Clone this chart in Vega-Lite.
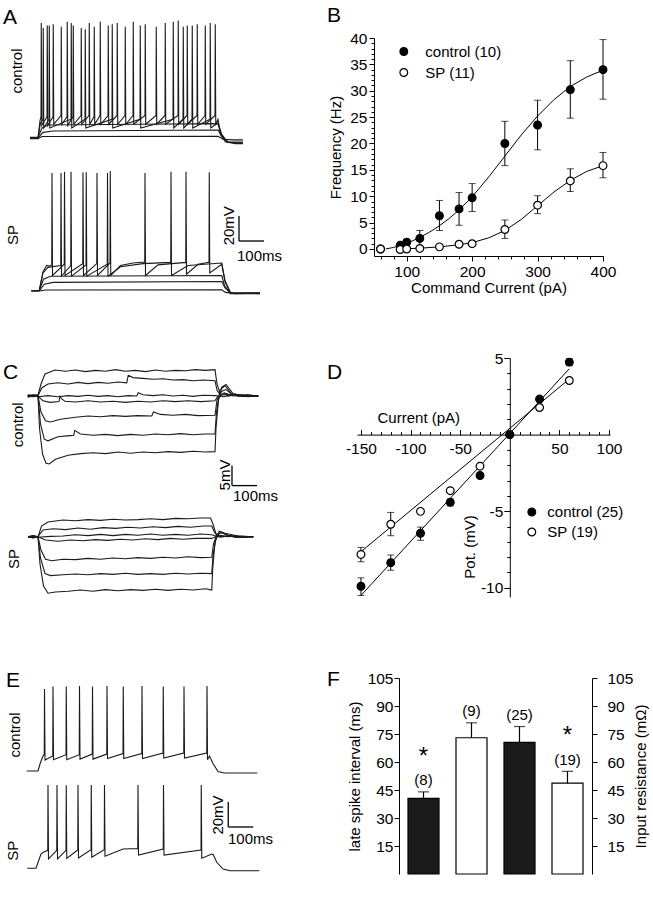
{
  "$schema": "https://vega.github.io/schema/vega-lite/v6.json",
  "background": "white",
  "padding": {"left": 0, "top": 4, "right": 5, "bottom": 5},
  "columns": 2,
  "align": {"row": "each", "column": "none"},
  "bounds": "flush",
  "spacing": {"row": 81, "column": 57},
  "resolve": {"scale": {"fill": "independent"}, "legend": {"fill": "independent"}},
  "config": {
    "view": {"stroke": null},
    "font": "Liberation Sans",
    "title": {"font": "Liberation Sans", "fontSize": 21, "fontWeight": "normal", "color": "black", "anchor": "start", "frame": "group", "offset": 0},
    "axis": {"labelFont": "Liberation Sans", "titleFont": "Liberation Sans", "labelFontSize": 15.5, "titleFontSize": 15, "titleFontWeight": "normal", "labelColor": "black", "titleColor": "black", "domainColor": "black", "tickColor": "black", "grid": false, "labelFlush": false, "labelOverlap": false, "tickWidth": 1, "domainWidth": 1},
    "legend": {"labelFont": "Liberation Sans", "labelFontSize": 15, "labelColor": "black", "labelLimit": 0},
    "text": {"font": "Liberation Sans", "color": "black"}
  },
  "datasets": {
    "A": [
      {"tr": "c1", "t": [-32,0,16,720,740,780,820], "v": [-0.5,-0.5,1.2,1.4,-1,-1.5,-1.5]},
      {"tr": "c2", "t": [-32,0,20,60,400,720,735,760,820], "v": [0,0,4.5,5.6,6.0,6.4,1,-3,-3.2]},
      {"tr": "c3", "t": [-32,0,16,40,400,720,735,760,820], "v": [0.5,0.5,8,10.4,11,11.5,3,-3.6,-4]},
      {"tr": "c4", "t": [-32,0,10,20,21,23,44,45,47,132,133,135,188,189,191,296,297,299,408,409,411,540,541,543,580,581,583,616,617,619,688,689,691,720,732,750,790,820],
        "v": [0,0,12,15,88,8,15,90,8,15,92,8,15,87,8,15,91,8,15,90,8,15,93,8,15,89,8,15,90,8,15,92,8,12,2,-3,-4,-4]},
      {"tr": "c5", "t": [-32,0,8,12,13,15,36,37,39,60,61,63,92,93,95,116,117,119,140,141,143,172,173,175,204,205,207,224,225,227,248,249,251,280,281,283,316,317,319,348,349,351,380,381,383,428,429,431,472,473,475,508,509,511,560,561,563,596,597,599,636,637,639,668,669,671,708,709,711,720,730,750,790,820],
        "v": [0,0,14,17,92,10,17,90,10,17,91,11,18,89,11,17,93,10,17,90,11,18,88,11,18,92,11,17,89,11,18,93,11,18,90,11,18,92,11,18,89,11,18,93,11,18,91,11,18,89,11,18,92,11,18,94,11,18,90,11,18,91,11,18,90,11,18,91,11,15,4,-3,-4.5,-4.5]},
      {"tr": "s1", "t": [-26,5,30,735,750,790,888], "v": [-122.4,-122.4,-121.6,-121.4,-123.5,-124.5,-124]},
      {"tr": "s2", "t": [-26,5,25,60,735,748,770,888], "v": [-122.4,-122.4,-117,-115.5,-114.8,-120,-124,-124.5]},
      {"tr": "s3", "t": [-26,5,22,50,735,746,770,888], "v": [-122,-122,-113,-110.6,-110,-118,-124.5,-124.5]},
      {"tr": "s4", "t": [-26,5,20,40,91,92,94,131,132,134,192,193,195,277,278,280,330,420,531,532,534,600,735,748,770,888],
        "v": [-122,-122,-108,-103.5,-102,-28,-110.5,-102,-27,-110.5,-101.5,-27.5,-110.5,-101,-28,-110.5,-103,-100.5,-99.5,-27,-110,-102,-100,-114,-123.8,-124]},
      {"tr": "s5", "t": [-26,5,20,35,45,55,56,58,105,106,108,179,180,182,235,236,238,288,289,291,330,380,427,428,430,480,591,592,594,640,684,685,687,735,748,770,888],
        "v": [-122,-122,-107,-102,-102.5,-101.5,-28,-110,-101,-27,-110,-100.5,-27.5,-110,-100.5,-28,-110,-100,-26.5,-110,-102,-100,-99.2,-28,-110,-101.5,-99.5,-27,-109,-101,-99.5,-27.5,-108,-101,-115,-124,-124]}
    ],
    "Abar": [{"t": 804, "v": -82.4, "t2": 804, "v2": -62.4}, {"t": 804, "v": -82.4, "t2": 904, "v2": -82.4}],
    "Arot": [{"t": -84, "v": 53.6, "txt": "control"}, {"t": -100, "v": -77.6, "txt": "SP"}, {"t": 764, "v": -70.2, "txt": "20mV"}],
    "Ahor": [{"t": 796, "v": -94.2, "txt": "100ms"}],
    "C": [
      {"tr": "c1", "t": [-41,-20,0,12,28,68,110,150,190,230,270,310,350,390,430,470,510,550,590,630,670,708,716,730,745,760,800,840,881],
        "v": [0.3,0.1,0.3,3,5.5,6.5,6.2,6.5,6.1,6.4,6.2,6.6,6.2,6.4,6.1,6.5,6.2,6.4,6.3,6.6,6.4,6.6,3,0.3,0.6,0,0.3,-0.2,0.1]},
      {"tr": "c2", "t": [-41,-20,0,15,40,80,120,160,200,240,280,320,355,361,380,420,460,500,540,580,620,660,708,716,730,760,800,840,881],
        "v": [0,0.3,0.1,2,3.0,3.3,3.0,3.4,3.1,3.4,3.2,3.5,3.3,5.2,4.6,4.4,4.2,4.3,4.0,4.1,3.8,4.0,3.8,1.5,0.2,0.4,0,0.3,0]},
      {"tr": "c3", "t": [-41,-20,0,40,80,120,160,200,240,280,320,360,395,401,420,460,500,540,580,620,660,708,740,780,820,881],
        "v": [-0.3,0,-0.2,0.1,-0.2,0.1,-0.1,0.2,-0.1,0.1,-0.2,0.1,0,0.8,0.3,0.1,0.3,0,0.2,-0.1,0.2,0.1,-0.2,0.2,-0.1,0]},
      {"tr": "c4", "t": [-41,-20,0,20,48,84,88,96,108,150,200,250,300,350,400,450,500,550,600,650,708,718,745,780,820,881],
        "v": [0.2,-0.1,0,-1.2,-1.6,-1.4,-0.1,-0.8,-1.3,-1.5,-1.2,-1.5,-1.3,-1.6,-1.3,-1.5,-1.2,-1.4,-1.2,-1.4,-1.2,-0.2,0.8,0,0.3,0]},
      {"tr": "c5", "t": [-41,-20,0,12,30,50,90,150,200,250,300,350,400,455,462,490,540,590,640,708,716,735,752,780,820,881],
        "v": [0,0.2,0.1,-4,-6.2,-6.5,-5.8,-5.3,-5.0,-5.2,-4.9,-5.1,-4.9,-5.0,-4.0,-4.6,-4.8,-4.6,-4.9,-4.8,-1,1.2,1.6,0.2,-0.1,0]},
      {"tr": "c6", "t": [-41,-20,0,10,25,40,80,128,143,147,170,220,270,320,370,420,470,520,570,620,670,708,714,728,748,775,820,881],
        "v": [-0.2,0.1,0,-7,-10.8,-11.2,-10.2,-9.9,-9.8,-8.6,-9.5,-9.8,-9.6,-9.9,-9.6,-9.8,-9.5,-9.7,-9.4,-9.7,-9.5,-9.5,-4,1.5,2.6,0.5,0.2,0]},
      {"tr": "c7", "t": [-41,-20,0,6,18,32,45,70,120,170,220,270,320,370,420,470,520,570,620,670,708,712,722,735,752,780,820,881],
        "v": [0.1,-0.2,0,-8,-14.5,-16.8,-17,-15.8,-14.8,-14.4,-14.2,-14.4,-14.0,-14.3,-14.0,-14.2,-13.9,-14.1,-13.8,-14.0,-13.9,-8,-1,2.2,2.9,0.6,0.1,0]},
      {"tr": "s1", "t": [-40,-20,0,14,40,100,150,200,250,300,350,400,450,500,550,600,650,690,700,712,730,760,800,861],
        "v": [-35.2,-34.9,-35.2,-32.5,-31.5,-31,-31.2,-30.9,-31.1,-30.8,-31.0,-30.9,-30.7,-30.9,-30.6,-30.7,-30.5,-30.5,-32,-34.5,-35.3,-35.0,-35.3,-35.2]},
      {"tr": "s2", "t": [-40,-20,0,20,60,110,160,210,260,310,360,410,460,510,560,610,660,695,705,720,760,800,861],
        "v": [-35.1,-35.4,-35.1,-33.5,-33.2,-33.4,-33.0,-33.3,-32.9,-33.1,-32.8,-33.0,-32.7,-32.9,-32.6,-32.8,-32.5,-32.5,-34,-35.2,-35.0,-35.3,-35.2]},
      {"tr": "s3", "t": [-40,-20,0,50,100,150,200,250,300,350,400,450,500,550,600,650,695,720,760,800,861],
        "v": [-35.3,-35.0,-35.3,-35.1,-35.0,-34.7,-34.9,-34.6,-34.9,-34.6,-34.8,-34.5,-34.8,-34.6,-34.8,-34.5,-34.7,-35.2,-35.0,-35.3,-35.2]},
      {"tr": "s4", "t": [-40,-20,0,30,80,130,180,230,280,330,380,430,480,530,580,630,695,710,730,760,800,861],
        "v": [-35.2,-35.5,-35.2,-36,-36.3,-36.0,-36.2,-35.9,-36.1,-35.8,-36.0,-35.7,-35.9,-35.6,-35.8,-35.6,-35.6,-35.2,-34.8,-35.2,-35.0,-35.2]},
      {"tr": "s5", "t": [-40,-20,0,12,30,55,100,150,200,250,300,350,400,450,500,550,600,650,695,702,716,735,765,800,861],
        "v": [-35.2,-35.0,-35.2,-38.5,-40.8,-41.2,-40.8,-40.9,-40.6,-40.8,-40.5,-40.7,-40.4,-40.6,-40.3,-40.5,-40.2,-40.4,-40.3,-37,-34.5,-34.2,-35,-35.3,-35.2]},
      {"tr": "s6", "t": [-40,-20,0,10,28,50,100,150,200,250,300,350,400,450,500,550,600,650,695,700,712,730,760,800,861],
        "v": [-35.2,-35.4,-35.2,-40.5,-44.4,-44.9,-44.7,-44.5,-44.7,-44.4,-44.6,-44.3,-44.6,-44.4,-44.6,-44.3,-44.5,-44.3,-44.4,-40,-35.5,-34,-34.8,-35.1,-35.2]},
      {"tr": "s7", "t": [-40,-20,0,8,22,40,70,120,170,220,270,320,370,420,470,520,570,620,670,695,699,708,725,748,800,861],
        "v": [-35.2,-35.0,-35.2,-42,-47.5,-49.3,-49,-48.8,-48.5,-48.8,-48.4,-48.7,-48.4,-48.6,-48.3,-48.6,-48.3,-48.5,-48.2,-48.5,-43,-36.5,-33.8,-34.3,-35.0,-35.2]}
    ],
    "Cbar": [{"t": 776, "v": -22.4, "t2": 776, "v2": -17.4}, {"t": 776, "v": -22.4, "t2": 876, "v2": -22.4}],
    "Crot": [{"t": -82, "v": -7.2, "txt": "control"}, {"t": -96, "v": -40.75, "txt": "SP"}, {"t": 748, "v": -19.75, "txt": "5mV"}],
    "Chor": [{"t": 780, "v": -25, "txt": "100ms"}],
    "E": [
      {"tr": "c", "t": [-45,0,8,18,25,26,28,59,60,62,112,113,115,165,166,168,217,218,220,275,276,278,340,341,343,415,416,418,500,501,503,583,584,586,675,676,678,686,700,720,745,877],
        "v": [0,0,5.6,11,13.6,65.6,8.8,12,67.5,9,13,67.5,9,13,68,9.5,13.5,67.5,9.5,13.5,68,10,14,67.5,10,14,68,10,14.4,67.5,10.4,14.4,67.5,10.4,14.4,68,9,12,6,-0.5,-1.6,-1.6]},
      {"tr": "s", "t": [-43,-8,2,12,21,39,40,42,75,76,78,112,113,115,159,160,162,212,213,215,265,266,268,340,399,400,402,501,502,504,652,653,655,695,701,715,740,768,885],
        "v": [-77.8,-77.8,-72,-66.5,-65,-63.5,-11.2,-70.4,-63.5,-11.2,-70.4,-63.5,-11.5,-70,-63.2,-11.2,-69.5,-63,-11.2,-69,-63,-11.2,-68.2,-62.4,-62,-11.2,-67.2,-62.4,-11.2,-67.2,-63.2,-11.2,-69.8,-66.4,-67,-73,-78.5,-79.8,-79.8]}
    ],
    "Ebar": [{"t": 761, "v": -44.8, "t2": 761, "v2": -24.8}, {"t": 761, "v": -44.8, "t2": 861, "v2": -44.8}],
    "Erot": [{"t": -92, "v": 28.8, "txt": "control"}, {"t": -99, "v": -63.8, "txt": "SP"}, {"t": 720, "v": -35.2, "txt": "20mV"}],
    "Ehor": [{"t": 760, "v": -54.4, "txt": "100ms"}],
    "B": [
      {"g": "control (10)", "x": 60, "y": 0},
      {"g": "control (10)", "x": 90, "y": 0.7},
      {"g": "control (10)", "x": 100, "y": 1.3, "lo": 0.8, "hi": 1.8},
      {"g": "control (10)", "x": 120, "y": 2.0, "lo": 0.5, "hi": 3.5},
      {"g": "control (10)", "x": 150, "y": 6.3, "lo": 3.5, "hi": 9.2},
      {"g": "control (10)", "x": 180, "y": 7.6, "lo": 4.5, "hi": 10.7},
      {"g": "control (10)", "x": 200, "y": 9.7, "lo": 7.1, "hi": 12.4},
      {"g": "control (10)", "x": 250, "y": 20.0, "lo": 15.8, "hi": 24.2},
      {"g": "control (10)", "x": 300, "y": 23.5, "lo": 18.8, "hi": 28.2},
      {"g": "control (10)", "x": 350, "y": 30.2, "lo": 24.8, "hi": 35.7},
      {"g": "control (10)", "x": 400, "y": 34.0, "lo": 28.4, "hi": 39.7},
      {"g": "SP (11)", "x": 60, "y": 0},
      {"g": "SP (11)", "x": 90, "y": -0.1},
      {"g": "SP (11)", "x": 100, "y": 0},
      {"g": "SP (11)", "x": 120, "y": 0.1},
      {"g": "SP (11)", "x": 150, "y": 0.4},
      {"g": "SP (11)", "x": 180, "y": 0.9},
      {"g": "SP (11)", "x": 200, "y": 1.0},
      {"g": "SP (11)", "x": 250, "y": 3.7, "lo": 2.0, "hi": 5.5},
      {"g": "SP (11)", "x": 300, "y": 8.3, "lo": 6.7, "hi": 10.1},
      {"g": "SP (11)", "x": 350, "y": 12.9, "lo": 10.9, "hi": 15.2},
      {"g": "SP (11)", "x": 400, "y": 15.8, "lo": 13.5, "hi": 18.3}
    ],
    "Bfit": [
      {"g": "control (10)", "x": [68,80,90,100,110,120,135,150,165,180,200,225,250,275,300,325,350,375,400], "y": [0,0.3,0.7,1.1,1.6,2.2,3.2,4.4,5.8,7.4,9.9,13.6,17.6,21.6,25.2,28.3,30.8,32.6,33.9]},
      {"g": "SP (11)", "x": [90,100,120,150,180,200,225,250,275,300,325,350,375,400], "y": [0,0.05,0.15,0.4,0.8,1.2,2.1,3.5,5.6,8.2,10.8,13.0,14.7,15.8]}
    ],
    "D": [
      {"g": "SP (19)", "x": -150, "y": -7.82, "lo": -8.3, "hi": -7.36},
      {"g": "SP (19)", "x": -120, "y": -5.85, "lo": -6.6, "hi": -5.08},
      {"g": "SP (19)", "x": -90, "y": -5.01},
      {"g": "SP (19)", "x": -60, "y": -3.66},
      {"g": "SP (19)", "x": -30, "y": -2.06},
      {"g": "SP (19)", "x": 0, "y": 0},
      {"g": "SP (19)", "x": 30, "y": 1.77},
      {"g": "SP (19)", "x": 60, "y": 3.53},
      {"g": "control (25)", "x": -150, "y": -9.9, "lo": -10.5, "hi": -9.35},
      {"g": "control (25)", "x": -120, "y": -8.36, "lo": -8.85, "hi": -7.86},
      {"g": "control (25)", "x": -90, "y": -6.44, "lo": -6.9, "hi": -6.04},
      {"g": "control (25)", "x": -60, "y": -4.42, "lo": -4.65, "hi": -4.2},
      {"g": "control (25)", "x": -30, "y": -2.67},
      {"g": "control (25)", "x": 0, "y": 0},
      {"g": "control (25)", "x": 30, "y": 2.32},
      {"g": "control (25)", "x": 60, "y": 4.73, "lo": 4.5, "hi": 4.95}
    ],
    "Dfit": [
      {"g": "control (25)", "x": -150, "y": -10.5},
      {"g": "control (25)", "x": 60, "y": 4.3},
      {"g": "SP (19)", "x": -150, "y": -7.64},
      {"g": "SP (19)", "x": 60, "y": 3.63}
    ],
    "F": [
      {"bar": "control", "cond": "control", "val": 40.5, "hi": 44, "n": "(8)", "star": "*"},
      {"bar": "SP", "cond": "SP", "val": 73, "hi": 81, "n": "(9)"},
      {"bar": "control ", "cond": "control", "val": 70.5, "hi": 79, "n": "(25)"},
      {"bar": "SP ", "cond": "SP", "val": 48.7, "hi": 55, "n": "(19)", "star": "*"}
    ]
  },
  "concat": [
    {
      "width": 317, "height": 239,
      "title": {"text": "A", "dx": 3, "dy": 13.4},
      "encoding": {
        "x": {"field": "t", "type": "quantitative", "scale": {"domain": [-152, 1116]}, "axis": null},
        "y": {"field": "v", "type": "quantitative", "scale": {"domain": [-111.2, 80]}, "axis": null}
      },
      "layer": [
        {"data": {"name": "A"}, "transform": [{"flatten": ["t", "v"]}], "mark": {"type": "line", "color": "#1a1a1a", "strokeWidth": 1.1}, "encoding": {"detail": {"field": "tr", "type": "nominal"}}},
        {"data": {"name": "Abar"}, "mark": {"type": "rule", "color": "black", "strokeWidth": 1.3}, "encoding": {"x2": {"field": "t2"}, "y2": {"field": "v2"}}},
        {"data": {"name": "Arot"}, "mark": {"type": "text", "angle": 270, "fontSize": 15, "align": "center", "baseline": "middle"}, "encoding": {"text": {"field": "txt", "type": "nominal"}}},
        {"data": {"name": "Ahor"}, "mark": {"type": "text", "fontSize": 15, "align": "left", "baseline": "middle"}, "encoding": {"text": {"field": "txt", "type": "nominal"}}}
      ]
    },
    {
      "width": 204, "height": 218,
      "title": {"text": "B", "dx": -72, "dy": -1.5},
      "resolve": {"axis": {"x": "independent", "y": "independent"}},
      "layer": [
        {"data": {"name": "Bfit"}, "transform": [{"flatten": ["x", "y"]}], "mark": {"type": "line", "color": "black", "strokeWidth": 1},
          "encoding": {
            "x": {"field": "x", "type": "quantitative", "scale": {"domain": [50, 400], "range": [-25, 204]}, "axis": {"orient": "bottom", "values": [100, 200, 300, 400], "tickSize": 5, "labelPadding": 3, "title": "Command Current (pA)", "titlePadding": 1}},
            "y": {"field": "y", "type": "quantitative", "scale": {"domain": [-1.33, 40]}, "axis": {"orient": "left", "offset": 25, "values": [0, 5, 10, 15, 20, 25, 30, 35, 40], "tickSize": 5, "labelPadding": 2, "title": "Frequency (Hz)", "titlePadding": 6}},
            "detail": {"field": "g", "type": "nominal"}}},
        {"data": {"name": "B"}, "transform": [{"filter": "datum.lo != null"}], "mark": {"type": "rule", "color": "black", "strokeWidth": 1},
          "encoding": {
            "x": {"field": "x", "type": "quantitative", "scale": {"domain": [50, 400], "range": [-25, 204]}, "axis": {"orient": "bottom", "values": [60, 80, 120, 140, 160, 180, 220, 240, 260, 280, 320, 340, 360, 380], "tickSize": 3, "labels": false, "domain": false, "title": null}},
            "y": {"field": "lo", "type": "quantitative", "scale": {"domain": [-1.33, 40]}, "axis": {"orient": "left", "offset": 25, "values": [1, 2, 3, 4, 6, 7, 8, 9, 11, 12, 13, 14, 16, 17, 18, 19, 21, 22, 23, 24, 26, 27, 28, 29, 31, 32, 33, 34, 36, 37, 38, 39], "tickSize": 3, "labels": false, "domain": false, "title": null}},
            "y2": {"field": "hi"}}},
        {"data": {"name": "B"}, "transform": [{"filter": "datum.lo != null"}], "mark": {"type": "tick", "orient": "horizontal", "size": 7, "thickness": 1, "color": "black"},
          "encoding": {
            "x": {"field": "x", "type": "quantitative", "scale": {"domain": [50, 400], "range": [-25, 204]}, "axis": null},
            "y": {"field": "lo", "type": "quantitative", "scale": {"domain": [-1.33, 40]}, "axis": null}}},
        {"data": {"name": "B"}, "transform": [{"filter": "datum.hi != null"}], "mark": {"type": "tick", "orient": "horizontal", "size": 7, "thickness": 1, "color": "black"},
          "encoding": {
            "x": {"field": "x", "type": "quantitative", "scale": {"domain": [50, 400], "range": [-25, 204]}, "axis": null},
            "y": {"field": "hi", "type": "quantitative", "scale": {"domain": [-1.33, 40]}, "axis": null}}},
        {"data": {"name": "B"}, "mark": {"type": "point", "shape": "circle", "filled": true, "size": 60, "stroke": "black", "strokeWidth": 1.2, "opacity": 1},
          "encoding": {
            "x": {"field": "x", "type": "quantitative", "scale": {"domain": [50, 400], "range": [-25, 204]}, "axis": null},
            "y": {"field": "y", "type": "quantitative", "scale": {"domain": [-1.33, 40]}, "axis": null},
            "fill": {"field": "g", "type": "nominal", "scale": {"domain": ["control (10)", "SP (11)"], "range": ["black", "white"]},
              "legend": {"orient": "none", "legendX": -2.7, "legendY": 6, "title": null, "padding": 0, "symbolType": "circle", "symbolSize": 60, "symbolStrokeColor": "black", "symbolStrokeWidth": 1.2, "symbolOpacity": 1, "labelFontSize": 15, "labelOffset": 14, "rowPadding": 5, "labelBaseline": "middle"}}}}
      ]
    },
    {
      "width": 300, "height": 239,
      "title": {"text": "C", "dx": 3, "dy": 29.4},
      "encoding": {
        "x": {"field": "t", "type": "quantitative", "scale": {"domain": [-152, 1048]}, "axis": null},
        "y": {"field": "v", "type": "quantitative", "scale": {"domain": [-50.25, 9.5]}, "axis": null}
      },
      "layer": [
        {"data": {"name": "C"}, "transform": [{"flatten": ["t", "v"]}], "mark": {"type": "line", "color": "#1a1a1a", "strokeWidth": 1.1}, "encoding": {"detail": {"field": "tr", "type": "nominal"}}},
        {"data": {"name": "Cbar"}, "mark": {"type": "rule", "color": "black", "strokeWidth": 1.3}, "encoding": {"x2": {"field": "t2"}, "y2": {"field": "v2"}}},
        {"data": {"name": "Crot"}, "mark": {"type": "text", "angle": 270, "fontSize": 15, "align": "center", "baseline": "middle"}, "encoding": {"text": {"field": "txt", "type": "nominal"}}},
        {"data": {"name": "Chor"}, "mark": {"type": "text", "fontSize": 15, "align": "left", "baseline": "middle"}, "encoding": {"text": {"field": "txt", "type": "nominal"}}}
      ]
    },
    {
      "width": 211, "height": 239,
      "title": {"text": "D", "dx": -72, "dy": 36},
      "resolve": {"axis": {"x": "independent", "y": "independent"}},
      "layer": [
        {"data": {"name": "Dfit"}, "mark": {"type": "line", "color": "black", "strokeWidth": 1},
          "encoding": {
            "x": {"field": "x", "type": "quantitative", "scale": {"domain": [-154, 101], "range": [-42, 211]}, "axis": {"orient": "bottom", "offset": -162.4, "values": [-150, -100, -50, 50, 100], "ticks": false, "labelPadding": 7, "labelExpr": "datum.value < 0 ? '-' + abs(datum.value) : '' + datum.value", "title": "Current (pA)", "titleX": 19.3, "titleY": -17.5, "titleAlign": "center", "titleBaseline": "middle", "titleAngle": 0}},
            "y": {"field": "y", "type": "quantitative", "scale": {"domain": [-10.6, 5]}, "axis": {"orient": "left", "offset": -110.8, "values": [5, -5, -10], "tickSize": 6, "labelPadding": 1, "labelExpr": "datum.value < 0 ? '-' + abs(datum.value) : '' + datum.value", "title": "Pot. (mV)", "titleX": -40, "titleY": 188.5, "titleAngle": 270, "titleAlign": "center", "titleBaseline": "middle"}},
            "detail": {"field": "g", "type": "nominal"}}},
        {"data": {"name": "D"}, "transform": [{"filter": "datum.lo != null"}], "mark": {"type": "rule", "color": "black", "strokeWidth": 1},
          "encoding": {
            "x": {"field": "x", "type": "quantitative", "scale": {"domain": [-154, 101], "range": [-42, 211]}, "axis": {"orient": "top", "offset": -76.6, "values": [-140, -130, -120, -110, -90, -80, -70, -60, -40, -30, -20, -10, 10, 20, 30, 40, 60, 70, 80, 90], "tickSize": 3, "labels": false, "domain": false, "title": null}},
            "y": {"field": "lo", "type": "quantitative", "scale": {"domain": [-10.6, 5]}, "axis": {"orient": "left", "offset": -110.8, "values": [-9, -8, -7, -6, -4, -3, -2, -1, 1, 2, 3, 4], "tickSize": 3, "labels": false, "domain": false, "title": null}},
            "y2": {"field": "hi"}}},
        {"data": {"name": "D"}, "transform": [{"filter": "datum.lo != null"}], "mark": {"type": "tick", "orient": "horizontal", "size": 7, "thickness": 1, "color": "black"},
          "encoding": {
            "x": {"field": "x", "type": "quantitative", "scale": {"domain": [-154, 101], "range": [-42, 211]}, "axis": {"orient": "top", "offset": -76.6, "values": [-150, -100, -50, 0, 50, 100], "tickSize": 5, "labels": false, "domain": false, "title": null}},
            "y": {"field": "lo", "type": "quantitative", "scale": {"domain": [-10.6, 5]}, "axis": null}}},
        {"data": {"name": "D"}, "transform": [{"filter": "datum.hi != null"}], "mark": {"type": "tick", "orient": "horizontal", "size": 7, "thickness": 1, "color": "black"},
          "encoding": {
            "x": {"field": "x", "type": "quantitative", "scale": {"domain": [-154, 101], "range": [-42, 211]}, "axis": null},
            "y": {"field": "hi", "type": "quantitative", "scale": {"domain": [-10.6, 5]}, "axis": null}}},
        {"data": {"name": "D"}, "mark": {"type": "point", "shape": "circle", "filled": true, "size": 60, "stroke": "black", "strokeWidth": 1.2, "opacity": 1},
          "encoding": {
            "x": {"field": "x", "type": "quantitative", "scale": {"domain": [-154, 101], "range": [-42, 211]}, "axis": null},
            "y": {"field": "y", "type": "quantitative", "scale": {"domain": [-10.6, 5]}, "axis": null},
            "fill": {"field": "g", "type": "nominal", "scale": {"domain": ["control (25)", "SP (19)"], "range": ["black", "white"]},
              "legend": {"orient": "none", "legendX": 125.3, "legendY": 146.5, "title": null, "padding": 0, "symbolType": "circle", "symbolSize": 60, "symbolStrokeColor": "black", "symbolStrokeWidth": 1.2, "symbolOpacity": 1, "labelFontSize": 15, "labelOffset": 8, "rowPadding": 4, "labelBaseline": "middle"}}}}
      ]
    },
    {
      "width": 342, "height": 196,
      "title": {"text": "E", "dx": 6, "dy": 16.9},
      "encoding": {
        "x": {"field": "t", "type": "quantitative", "scale": {"domain": [-152, 1216]}, "axis": null},
        "y": {"field": "v", "type": "quantitative", "scale": {"domain": [-82.4, 74.4]}, "axis": null}
      },
      "layer": [
        {"data": {"name": "E"}, "transform": [{"flatten": ["t", "v"]}], "mark": {"type": "line", "color": "#1a1a1a", "strokeWidth": 1.1}, "encoding": {"detail": {"field": "tr", "type": "nominal"}}},
        {"data": {"name": "Ebar"}, "mark": {"type": "rule", "color": "black", "strokeWidth": 1.3}, "encoding": {"x2": {"field": "t2"}, "y2": {"field": "v2"}}},
        {"data": {"name": "Erot"}, "mark": {"type": "text", "angle": 270, "fontSize": 15, "align": "center", "baseline": "middle"}, "encoding": {"text": {"field": "txt", "type": "nominal"}}},
        {"data": {"name": "Ehor"}, "mark": {"type": "text", "fontSize": 15, "align": "left", "baseline": "middle"}, "encoding": {"text": {"field": "txt", "type": "nominal"}}}
      ]
    },
    {
      "width": 193, "height": 196,
      "title": {"text": "F", "dx": -72, "dy": 22.5},
      "resolve": {"axis": {"y": "independent"}},
      "layer": [
        {"data": {"name": "F"}, "mark": {"type": "bar", "stroke": "black", "strokeWidth": 1.2},
          "encoding": {
            "x": {"field": "bar", "type": "nominal", "sort": null, "scale": {"domain": ["control", "SP", "control ", "SP "], "paddingInner": 0.354, "paddingOuter": 0.1875}, "axis": {"orient": "bottom", "title": null, "ticks": false, "labelAngle": 0, "labelPadding": 5, "labelExpr": "trim(datum.label)"}},
            "y": {"field": "val", "type": "quantitative", "scale": {"domain": [0, 105]}, "axis": {"orient": "left", "values": [15, 30, 45, 60, 75, 90, 105], "tickSize": 5, "labelPadding": 1, "title": "late spike interval (ms)", "titlePadding": 5}},
            "fill": {"field": "cond", "type": "nominal", "scale": {"domain": ["control", "SP"], "range": ["#1a1a1a", "white"]}, "legend": null}}},
        {"data": {"name": "F"}, "mark": {"type": "rule", "color": "black", "strokeWidth": 1.2},
          "encoding": {
            "x": {"field": "bar", "type": "nominal", "sort": null, "scale": {"domain": ["control", "SP", "control ", "SP "], "paddingInner": 0.354, "paddingOuter": 0.1875}, "axis": null},
            "y": {"field": "val", "type": "quantitative", "scale": {"domain": [0, 105]}, "axis": {"orient": "right", "values": [15, 30, 45, 60, 75, 90, 105], "tickSize": 5, "labelPadding": 10, "title": "Input resistance (mΩ)", "titleAngle": 270, "titleBaseline": "top", "titlePadding": 1}},
            "y2": {"field": "hi"}}},
        {"data": {"name": "F"}, "mark": {"type": "tick", "orient": "horizontal", "size": 11, "thickness": 1.2, "color": "black"},
          "encoding": {
            "x": {"field": "bar", "type": "nominal", "sort": null, "scale": {"domain": ["control", "SP", "control ", "SP "], "paddingInner": 0.354, "paddingOuter": 0.1875}, "axis": null},
            "y": {"field": "hi", "type": "quantitative", "scale": {"domain": [0, 105]}, "axis": null}}},
        {"data": {"name": "F"}, "mark": {"type": "text", "fontSize": 15, "baseline": "middle", "dy": -11.5},
          "encoding": {
            "x": {"field": "bar", "type": "nominal", "sort": null, "scale": {"domain": ["control", "SP", "control ", "SP "], "paddingInner": 0.354, "paddingOuter": 0.1875}, "axis": null},
            "y": {"field": "hi", "type": "quantitative", "scale": {"domain": [0, 105]}, "axis": null},
            "text": {"field": "n", "type": "nominal"}}},
        {"data": {"name": "F"}, "transform": [{"filter": "datum.star != null"}], "mark": {"type": "text", "fontSize": 24, "baseline": "middle", "dy": -35},
          "encoding": {
            "x": {"field": "bar", "type": "nominal", "sort": null, "scale": {"domain": ["control", "SP", "control ", "SP "], "paddingInner": 0.354, "paddingOuter": 0.1875}, "axis": null},
            "y": {"field": "hi", "type": "quantitative", "scale": {"domain": [0, 105]}, "axis": null},
            "text": {"field": "star", "type": "nominal"}}}
      ]
    }
  ]
}
